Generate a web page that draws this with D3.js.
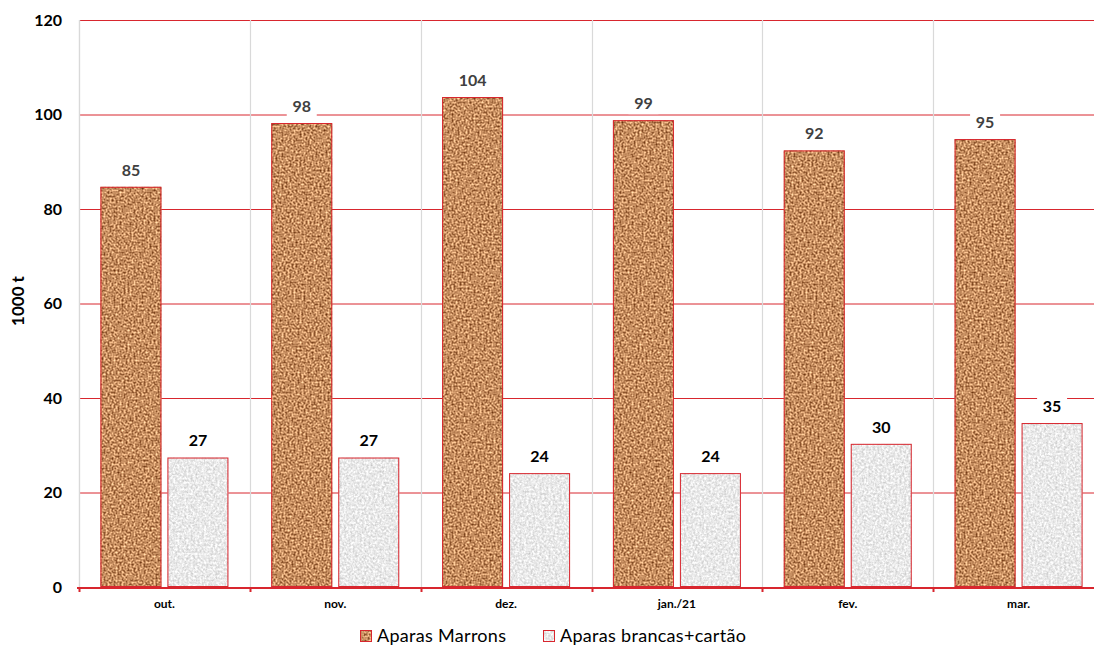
<!DOCTYPE html>
<html>
<head>
<meta charset="utf-8">
<script src="https://cdn.jsdelivr.net/npm/d3@7"></script>
<style>
  html, body { margin: 0; padding: 0; background: #fff; }
  svg { display: block; font-family: Lato, "Open Sans", sans-serif; }
</style>
</head>
<body>
<svg id="chart" width="1094" height="649"></svg>
<script>
// Monthly volumes, thousand tonnes
const months = ["out.", "nov.", "dez.", "jan./21", "fev.", "mar."];
const marrons = [84.7, 98.2, 103.7, 98.8, 92.4, 94.8];
const brancas = [27.4, 27.4, 24.1, 24.1, 30.3, 34.7];
const yTicks = [0, 20, 40, 60, 80, 100, 120];
const seriesNames = ["Aparas Marrons", "Aparas brancas+cartão"];

const svg = d3.select("#chart");
const plot = { left: 79, right: 1104, top: 20, bottom: 587 };

const x = d3.scaleBand().domain(months).range([plot.left, plot.right]).paddingInner(0).paddingOuter(0);
const y = d3.scaleLinear().domain([0, 120]).range([plot.bottom, plot.top]);

// Textures: fractal noise tinted to cork brown and to white paper
const defs = svg.append("defs");
function noiseFilter(id, freq, octaves, matrix) {
  const f = defs.append("filter").attr("id", id)
    .attr("x", 0).attr("y", 0).attr("width", 1).attr("height", 1)
    .attr("color-interpolation-filters", "sRGB");
  f.append("feTurbulence").attr("type", "fractalNoise")
    .attr("baseFrequency", freq).attr("numOctaves", octaves).attr("seed", 3).attr("result", "n");
  f.append("feColorMatrix").attr("in", "n").attr("type", "matrix")
    .attr("values", matrix).attr("result", "c");
  f.append("feComposite").attr("in", "c").attr("in2", "SourceAlpha").attr("operator", "in");
}
noiseFilter("cork", 0.5, 2,
  "1.05 0 0 0 0.25  " +
  "1.05 0 0 0 0.03  " +
  "0.95 0 0 0 -0.1  " +
  "0 0 0 0 1");
noiseFilter("paper", 0.45, 2,
  "0.35 0 0 0 0.74  " +
  "0.35 0 0 0 0.74  " +
  "0.35 0 0 0 0.74  " +
  "0 0 0 0 1");

const red = "#d8262e";

// Horizontal gridlines
svg.append("g").selectAll("line").data(yTicks.filter(d => d > 0)).join("line")
  .attr("x1", plot.left).attr("x2", plot.right)
  .attr("y1", d => y(d) + 0.5).attr("y2", d => y(d) + 0.5)
  .attr("stroke", red).attr("stroke-width", 1);

// Vertical separators between months
const bounds = months.map(m => x(m)).concat([plot.right]);
svg.append("g").selectAll("line").data(bounds).join("line")
  .attr("x1", d => Math.round(d) + 0.5).attr("x2", d => Math.round(d) + 0.5)
  .attr("y1", plot.top).attr("y2", plot.bottom)
  .attr("stroke", "#d9d9d9").attr("stroke-width", 1.2);

// Bars
const bw = x.bandwidth();
const barW = 61, gap = 6, inset = (bw - 2 * barW - gap) / 2;
const series = [
  { values: marrons, filter: "url(#cork)", dx: inset, labelColor: "#404040" },
  { values: brancas, filter: "url(#paper)", dx: inset + barW + gap, labelColor: "#000" }
];

series.forEach(s => {
  const g = svg.append("g");
  const data = months.map((m, i) => ({ m, v: s.values[i] }));
  g.selectAll("rect.fill").data(data).join("rect").attr("class", "fill")
    .attr("x", d => x(d.m) + s.dx).attr("y", d => y(d.v))
    .attr("width", barW).attr("height", d => y(0) - y(d.v))
    .attr("fill", "#fff").attr("filter", s.filter);
  g.selectAll("rect.edge").data(data).join("rect").attr("class", "edge")
    .attr("x", d => x(d.m) + s.dx + 0.5).attr("y", d => y(d.v) + 0.5)
    .attr("width", barW - 1).attr("height", d => y(0) - y(d.v) - 1)
    .attr("fill", "none").attr("stroke", red).attr("stroke-width", 1);

  // Value labels on white boxes
  const lab = g.selectAll("g.lab").data(data).join("g").attr("class", "lab")
    .attr("transform", d => `translate(${x(d.m) + s.dx + barW / 2},${y(d.v) - 17})`);
  lab.append("rect").attr("x", d => d.v >= 99.5 ? -19 : -15).attr("y", -11)
    .attr("width", d => d.v >= 99.5 ? 38 : 30).attr("height", 22).attr("fill", "#fff");
  lab.append("text").attr("text-anchor", "middle").attr("dy", "0.36em")
    .attr("font-size", 16).attr("font-weight", "bold").attr("fill", s.labelColor)
    .text(d => Math.round(d.v));
});

// Left axis line
svg.append("line").attr("x1", plot.left + 0.5).attr("x2", plot.left + 0.5)
  .attr("y1", plot.top).attr("y2", plot.bottom).attr("stroke", "#d9d9d9").attr("stroke-width", 1.2);

// Bottom axis
svg.append("line").attr("x1", plot.left - 2).attr("x2", plot.right)
  .attr("y1", plot.bottom + 1).attr("y2", plot.bottom + 1)
  .attr("stroke", red).attr("stroke-width", 2.2);
svg.append("g").selectAll("line").data(bounds).join("line")
  .attr("x1", d => Math.round(d) + 0.5).attr("x2", d => Math.round(d) + 0.5)
  .attr("y1", plot.bottom + 1).attr("y2", plot.bottom + 5)
  .attr("stroke", red).attr("stroke-width", 2);

svg.append("g").selectAll("text").data(months).join("text")
  .attr("x", d => x(d) + bw / 2).attr("y", 608)
  .attr("text-anchor", "middle").attr("font-size", 12).attr("font-weight", "bold").attr("fill", "#000")
  .text(d => d);

// Y tick labels
svg.append("g").selectAll("text").data(yTicks).join("text")
  .attr("x", 62).attr("y", d => y(d)).attr("dy", "0.36em")
  .attr("text-anchor", "end").attr("font-size", 16).attr("font-weight", "bold").attr("fill", "#000")
  .text(d => d);

// Y axis title
svg.append("text").attr("transform", "translate(24,301) rotate(-90)")
  .attr("text-anchor", "middle").attr("font-size", 17).attr("font-weight", "bold").attr("fill", "#000")
  .text("1000 t");

// Legend
const legend = svg.append("g");
const legendItems = [
  { name: seriesNames[0], filter: "url(#cork)", x: 360 },
  { name: seriesNames[1], filter: "url(#paper)", x: 543 }
];
legendItems.forEach(it => {
  legend.append("rect").attr("x", it.x).attr("y", 630).attr("width", 12).attr("height", 12)
    .attr("fill", "#fff").attr("filter", it.filter);
  legend.append("rect").attr("x", it.x + 0.5).attr("y", 630.5).attr("width", 11).attr("height", 11)
    .attr("fill", "none").attr("stroke", red).attr("stroke-width", 1);
  legend.append("text").attr("x", it.x + 17).attr("y", 636).attr("dy", "0.36em")
    .attr("font-size", 18).attr("letter-spacing", 0.3).attr("fill", "#000").text(it.name);
});
</script>
</body>
</html>
